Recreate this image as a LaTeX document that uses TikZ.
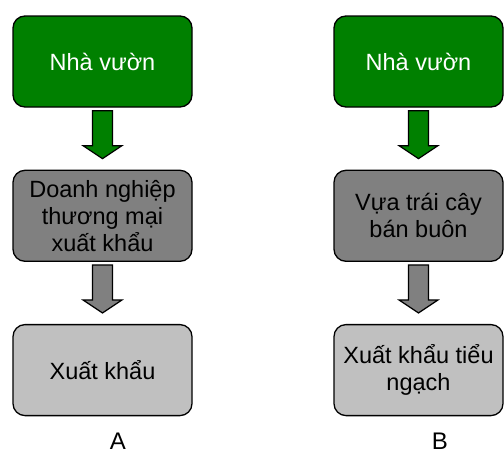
\documentclass[tikz,border=0pt]{standalone}
\usepackage{fontspec}
\setmainfont{Liberation Sans}
\usepackage{tikz}
\usetikzlibrary{positioning,calc}

\definecolor{gardengreen}{HTML}{008000}
\definecolor{tradergray}{HTML}{808080}
\definecolor{exportgray}{HTML}{C0C0C0}

% block arrow from one box down to the next
\newcommand{\flowarrow}[3]{%
  \draw[line width=1.2pt, fill=#3]
    ($(#1.south)+(-10pt,-3pt)$) -- ($(#1.south)+(10pt,-3pt)$)
    -- ($(#2.north)+(10pt,24pt)$) -- ($(#2.north)+(19.5pt,24pt)$)
    -- ($(#2.north)+(0pt,11pt)$)
    -- ($(#2.north)+(-19.5pt,24pt)$) -- ($(#2.north)+(-10pt,24pt)$) -- cycle;}

\begin{document}
\begin{tikzpicture}[
    box/.style={draw, line width=1.3pt, rounded corners=12pt, minimum height=91pt,
        align=center, inner sep=2pt, font=\fontsize{23.5}{27}\selectfont},
    leftbox/.style={box, minimum width=179pt},
    rightbox/.style={box, minimum width=169pt},
    caption/.style={inner sep=0pt, font=\fontsize{24}{27}\selectfont}
]
\useasboundingbox (0,0) rectangle (504pt,-453pt);

% chain A
\node[leftbox, fill=gardengreen, text=white] (gardenA) at (102.5pt,-61.5pt) {Nhà vườn};
\node[leftbox, fill=tradergray, below=62pt of gardenA] (traderA) {Doanh nghiệp\\thương mại\\xuất khẩu};
\node[leftbox, fill=exportgray, below=62pt of traderA] (exportA) {Xuất khẩu};
\node[caption] (capA) at ($(exportA.south)+(15.5pt,-24.5pt)$) {A};

% chain B
\node[rightbox, fill=gardengreen, text=white] (gardenB) at (418.5pt,-61.5pt) {Nhà vườn};
\node[rightbox, fill=tradergray, below=62pt of gardenB] (traderB) {Vựa trái cây\\bán buôn};
\node[rightbox, fill=exportgray, below=62pt of traderB] (exportB) {Xuất khẩu tiểu\\ngạch};
\node[caption] (capB) at ($(exportB.south)+(21.5pt,-24.5pt)$) {B};

\flowarrow{gardenA}{traderA}{gardengreen}
\flowarrow{traderA}{exportA}{tradergray}
\flowarrow{gardenB}{traderB}{gardengreen}
\flowarrow{traderB}{exportB}{tradergray}
\end{tikzpicture}
\end{document}
